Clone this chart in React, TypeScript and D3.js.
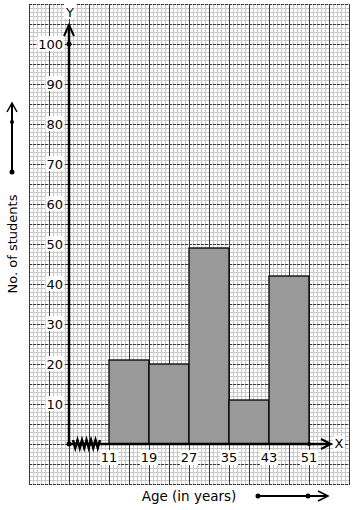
import React from "react";
import * as d3 from "d3";

const classStarts = [11, 19, 27, 35, 43];
const classEnds = [19, 27, 35, 43, 51];
const frequencies = [21, 20, 49, 11, 42];
const xTickLabels = [11, 19, 27, 35, 43, 51];
const yTickLabels = [10, 20, 30, 40, 50, 60, 70, 80, 90, 100];

const W = 354;
const H = 510;
const GX = 29, GY = 4, GW = 320, GH = 480;
const FONT = "DejaVu Sans, sans-serif";

export default function App() {
  const x = d3.scaleLinear().domain([3, 51]).range([69, 309]);
  const y = d3.scaleLinear().domain([0, 100]).range([444, 44]);
  const x0 = x(3), y0 = y(0);

  const minorV = d3.range(GX, GX + GW + 1, 4);
  const minorH = d3.range(GY, GY + GH + 1, 4);
  const majorV = d3.range(GX, GX + GW + 1, 20);
  const majorH = d3.range(GY, GY + GH + 1, 20);

  const zz: string[] = [];
  const zStart = x0 + 4, zEnd = x(11) - 9;
  const n = 12;
  for (let i = 0; i <= n; i++) {
    const px = zStart + ((zEnd - zStart) * i) / n;
    const py = y0 + (i % 2 === 0 ? -4 : 4);
    zz.push(`${i === 0 ? "M" : "L"}${px},${py}`);
  }

  return (
    <svg width={W} height={H} style={{ position: "absolute", left: 0, top: 0, background: "#fff" }}>
      <rect x={0} y={0} width={W} height={H} fill="#fff" />
      {minorV.map((v) => (
        <line key={"mv" + v} x1={v + 0.5} x2={v + 0.5} y1={GY} y2={GY + GH} stroke="#c8c8c8" strokeWidth={1} />
      ))}
      {minorH.map((v) => (
        <line key={"mh" + v} y1={v + 0.5} y2={v + 0.5} x1={GX} x2={GX + GW} stroke="#c8c8c8" strokeWidth={1} />
      ))}
      {majorV.map((v) => (
        <line key={"MV" + v} x1={v + 0.5} x2={v + 0.5} y1={GY} y2={GY + GH + 1} stroke="#3a3a3a" strokeWidth={1} />
      ))}
      {majorH.map((v) => (
        <line key={"MH" + v} y1={v + 0.5} y2={v + 0.5} x1={GX} x2={GX + GW + 1} stroke="#3a3a3a" strokeWidth={1} strokeDasharray="3,1" />
      ))}

      {frequencies.map((f, i) => (
        <rect
          key={"b" + i}
          x={x(classStarts[i])}
          y={y(f)}
          width={x(classEnds[i]) - x(classStarts[i])}
          height={y0 - y(f)}
          fill="#999999"
          stroke="#000"
          strokeWidth={1.3}
        />
      ))}

      {yTickLabels.map((t) => {
        const w = String(t).length * 8.2;
        return (
          <g key={"yt" + t}>
            <rect x={63 - w - 1} y={y(t) - 8} width={w + 2} height={15} fill="#fff" />
            <text x={63} y={y(t) + 5} textAnchor="end" fontFamily={FONT} fontSize={13} fill="#000">
              {t}
            </text>
          </g>
        );
      })}

      {xTickLabels.map((t) => (
        <g key={"xt" + t}>
          <rect x={x(t) - 9} y={y0 + 6} width={18} height={15} fill="#fff" />
          <text x={x(t)} y={y0 + 18} textAnchor="middle" fontFamily={FONT} fontSize={13} fill="#000">
            {t}
          </text>
        </g>
      ))}

      <line x1={x0} x2={x0} y1={y0} y2={GY + 21} stroke="#000" strokeWidth={2.5} />
      <path d={`M${x0 - 5},${GY + 32} L${x0},${GY + 21} L${x0 + 5},${GY + 32}`} fill="none" stroke="#000" strokeWidth={2} />
      <line x1={x0} x2={x(51) + 20} y1={y0} y2={y0} stroke="#000" strokeWidth={2.5} />
      <path d={`M${x(51) + 12},${y0 - 5} L${x(51) + 22},${y0} L${x(51) + 12},${y0 + 5}`} fill="none" stroke="#000" strokeWidth={2} />
      <path d={zz.join(" ")} fill="none" stroke="#000" strokeWidth={2.5} />
      <circle cx={x0} cy={y0} r={2.5} fill="#000" />
      <circle cx={x0} cy={y(100)} r={2.5} fill="#000" />
      <circle cx={x(51)} cy={y0} r={2} fill="#000" />

      <rect x={64} y={4} width={12} height={15} fill="#fff" />
      <text x={70} y={17} textAnchor="middle" fontFamily={FONT} fontSize={13}>Y</text>
      <rect x={333} y={436} width={12} height={15} fill="#fff" />
      <text x={339} y={448} textAnchor="middle" fontFamily={FONT} fontSize={13}>X</text>

      <text x={189} y={501} textAnchor="middle" fontFamily={FONT} fontSize={13.5}>Age (in years)</text>
      <line x1={258} x2={326} y1={496} y2={496} stroke="#000" strokeWidth={2} />
      <path d={`M318,491 L328,496 L318,501`} fill="none" stroke="#000" strokeWidth={1.5} />
      <circle cx={258} cy={496} r={2.5} fill="#000" />
      <circle cx={308} cy={496} r={2.5} fill="#000" />

      <text transform="translate(17,244) rotate(-90)" textAnchor="middle" fontFamily={FONT} fontSize={13}>No. of students</text>
      <line x1={12} x2={12} y1={172} y2={104} stroke="#000" strokeWidth={2} />
      <path d={`M7,112 L12,103 L17,112`} fill="none" stroke="#000" strokeWidth={1.5} />
      <circle cx={12} cy={172} r={2.5} fill="#000" />
      <circle cx={12} cy={122} r={2} fill="#000" />
    </svg>
  );
}
